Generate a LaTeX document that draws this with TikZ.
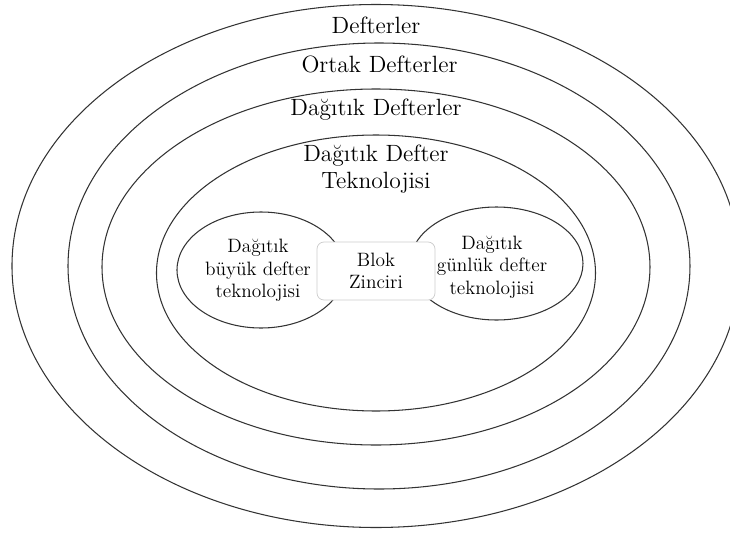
\documentclass[tikz,border=0pt]{standalone}
\usepackage{fontspec}

\tikzset{
  ring/.style={draw=black!80, line width=0.6pt},
  biglbl/.style={font=\fontsize{13.4}{15.4}\selectfont, align=center, inner sep=0pt},
  smalllbl/.style={font=\fontsize{11}{12.8}\selectfont, align=center, inner sep=0pt},
}

\begin{document}
\begin{tikzpicture}
\useasboundingbox (-7.52, -5.32) rectangle (7.08, 5.32);
\clip (-7.52, -5.32) rectangle (7.08, 5.32);

\draw[ring] (0, 0) ellipse [x radius=7.28, y radius=5.23];
\draw[ring] (0.06, 0) ellipse [x radius=6.22, y radius=4.46];
\draw[ring] (0, -0.02) ellipse [x radius=5.48, y radius=3.56];
\draw[ring] (0, -0.14) ellipse [x radius=4.39, y radius=2.76];
\draw[ring] (-2.3, -0.08) ellipse [x radius=1.68, y radius=1.16];
\draw[ring] (2.41, 0.05) ellipse [x radius=1.73, y radius=1.13];

\node[biglbl, anchor=base] (defterler) at (0, 4.66) {Defterler};
\node[biglbl, anchor=base] (ortak) at (0.07, 3.88) {Ortak Defterler};
\node[biglbl, anchor=base] (dagitik) at (0, 3.02) {Dağıtık Defterler};
\node[biglbl] (teknoloji) at (0, 1.94) {Dağıtık Defter\\Teknolojisi};

\node[smalllbl] (buyuk) at (-2.36, -0.09) {Dağıtık\\büyük defter\\teknolojisi};
\node[smalllbl] (gunluk) at (2.32, -0.02) {Dağıtık\\günlük defter\\teknolojisi};

\node[smalllbl, draw=black!20, fill=white, rounded corners=0.14cm,
  minimum width=2.36cm, minimum height=1.16cm] (blok) at (0, -0.1) {Blok\\Zinciri};
\end{tikzpicture}
\end{document}
